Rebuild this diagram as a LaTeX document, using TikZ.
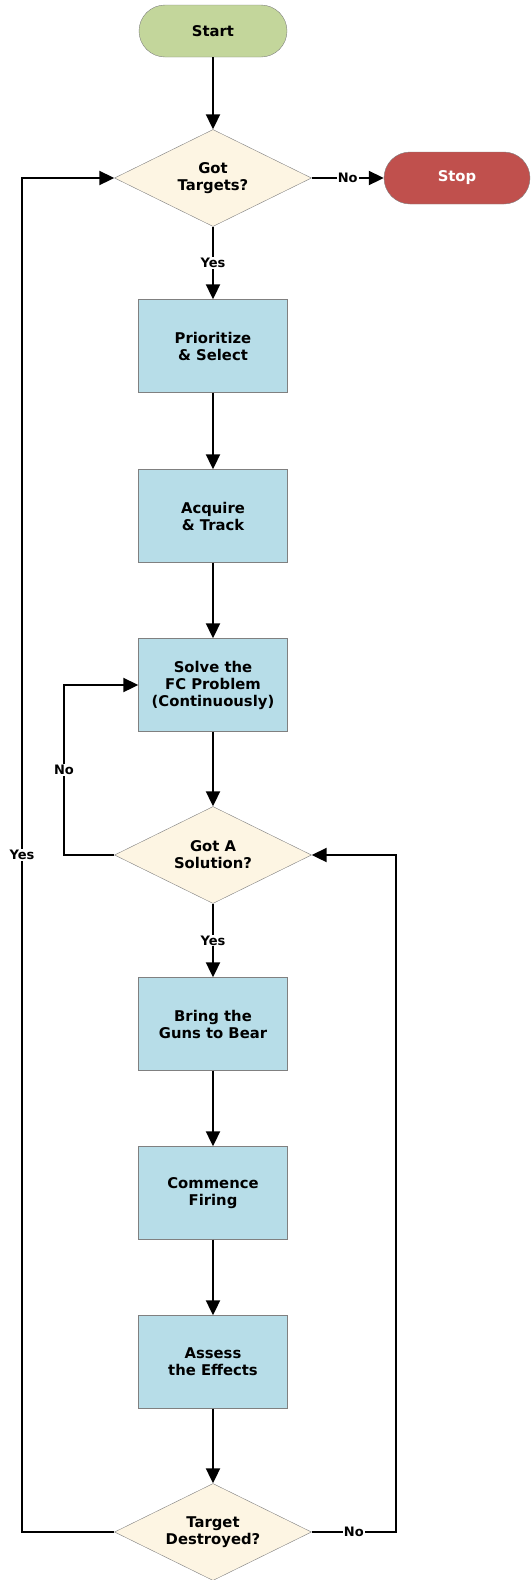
\documentclass[tikz,border=0pt]{standalone}
\usepackage{fontspec}
\setmainfont{DejaVu Sans}
\usetikzlibrary{shapes,shapes.geometric,arrows.meta}

\definecolor{termgreen}{HTML}{C3D69B}
\definecolor{termred}{HTML}{C0504D}
\definecolor{stepblue}{HTML}{B7DDE8}
\definecolor{askcream}{HTML}{FDF5E3}

\begin{document}
\begin{tikzpicture}[x=1pt,y=-1pt]
				\tikzstyle{every node}=[font=\fontsize{14.8}{17}\selectfont\bfseries, align=center]
				\tikzstyle{term}=[rectangle, rounded corners=26pt, draw=gray, minimum width=148pt, minimum height=52pt]
				\tikzstyle{stepbox}=[rectangle, draw=gray, fill=stepblue, minimum width=149pt, minimum height=93pt]
				\tikzstyle{ask}=[diamond, aspect=2, inner sep=0pt, draw=gray, fill=askcream, minimum width=197pt, minimum height=97pt]
				\tikzstyle{flow}=[line width=2pt, -{Triangle[length=15pt,width=14pt]}]
				\tikzstyle{wire}=[line width=2pt]
				\tikzstyle{lbl}=[fill=white, inner sep=1pt, font=\fontsize{13}{15}\selectfont\bfseries]
				\useasboundingbox (0,0) rectangle (531,1580);
				% nodes
				\node[term, fill=termgreen] (start) at (213,31) {Start};
				\node[ask] (gt) at (213,178) {Got\\Targets?};
				\node[term, fill=termred, minimum width=146pt, text=white] (stop) at (457,178) {Stop};
				\node[stepbox] (prio) at (213,346) {Prioritize\\\& Select};
				\node[stepbox] (acq) at (213,516) {Acquire\\\& Track};
				\node[stepbox] (solve) at (213,685) {Solve the\\FC Problem\\(Continuously)};
				\node[ask] (gas) at (213,855) {Got A\\Solution?};
				\node[stepbox] (bring) at (213,1024) {Bring the\\Guns to Bear};
				\node[stepbox] (fire) at (213,1193) {Commence\\Firing};
				\node[stepbox] (assess) at (213,1362) {Assess\\the Effects};
				\node[ask] (td) at (213,1532) {Target\\Destroyed?};
				\coordinate (yesx) at (22,0);
				\coordinate (nox) at (64,0);
				\coordinate (backx) at (396,0);
				% connectors
				\draw[flow] (start) -- (gt);
				\draw[flow] (gt) -- node[lbl] {No} (stop);
				\draw[flow] (gt) -- node[lbl] {Yes} (prio);
				\draw[flow] (prio) -- (acq);
				\draw[flow] (acq) -- (solve);
				\draw[flow] (solve) -- (gas);
				\draw[flow] (gas) -- node[lbl] {Yes} (bring);
				\draw[flow] (bring) -- (fire);
				\draw[flow] (fire) -- (assess);
				\draw[flow] (assess) -- (td);
				% loops back
				\draw[flow] (gas.west) -- (gas.west -| nox) -- node[lbl] {No} (solve.west -| nox) -- (solve.west);
				\draw[flow] (td.west) -- (td.west -| yesx) -- node[lbl] {Yes} (gt.west -| yesx) -- (gt.west);
				\draw[flow] (td.east) -- node[lbl] {No} (td.east -| backx) -- (gas.east -| backx) -- (gas.east);
			\end{tikzpicture}
\end{document}
